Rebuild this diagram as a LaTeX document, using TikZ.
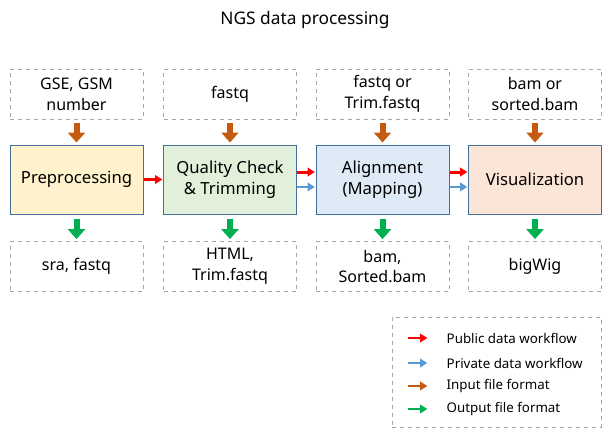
\documentclass[tikz,border=0pt]{standalone}
\usepackage{fontspec}
\setmainfont{Noto Sans}
\usetikzlibrary{arrows.meta, positioning}
\definecolor{fillpre}{HTML}{FFF2CC}
\definecolor{fillqc}{HTML}{E2F0D9}
\definecolor{fillaln}{HTML}{DEEBF7}
\definecolor{fillvis}{HTML}{FBE5D6}
\definecolor{edgeblue}{HTML}{41719C}
\definecolor{dashgray}{HTML}{A6A6A6}
\definecolor{pubred}{HTML}{FF0000}
\definecolor{privblue}{HTML}{5B9BD5}
\definecolor{inbrown}{HTML}{C55A11}
\definecolor{outgreen}{HTML}{00B050}
\tikzset{
  mainbox/.style={draw=edgeblue, line width=0.75pt, minimum width=99.75pt, minimum height=51.75pt, align=center, font=\fontsize{12.5}{15.5}\selectfont},
  filebox/.style={draw=dashgray, dashed, line width=0.6pt, minimum width=99.75pt, minimum height=37.5pt, align=center, font=\fontsize{12}{15.5}\selectfont},
  flow/.style={line width=2.2pt, -{Triangle[width=6.5pt,length=5.5pt]}, shorten >=0.5pt},
  fatarrow/.style={line width=4.5pt, -{Triangle[width=12.75pt,length=7.5pt]}, shorten <=3pt, shorten >=1.5pt},
  legtext/.style={anchor=west, font=\fontsize{10}{12}\selectfont},
}
\begin{document}
\begin{tikzpicture}[x=0.75pt,y=-0.75pt]
    \useasboundingbox (0,0) rectangle (610,439);
    \node[font=\fontsize{13}{15}\selectfont] (title) at (305,20) {NGS data processing};

    % main steps
    \node[mainbox, fill=fillpre] (pre) at (76.5,179.5) {Preprocessing};
    \node[mainbox, fill=fillqc] (qc) at (230,179.5) {Quality Check\\\& Trimming};
    \node[mainbox, fill=fillaln] (aln) at (382.5,179.5) {Alignment\\(Mapping)};
    \node[mainbox, fill=fillvis] (vis) at (535,179.5) {Visualization};

    % input files
    \node[filebox] (in1) at (76.5,94) {GSE, GSM\\number};
    \node[filebox] (in2) at (230,94) {fastq};
    \node[filebox] (in3) at (382.5,94) {fastq or\\Trim.fastq};
    \node[filebox] (in4) at (535,94) {bam or\\sorted.bam};

    % output files
    \node[filebox] (out1) at (76.5,266.5) {sra, fastq};
    \node[filebox] (out2) at (230,266.5) {HTML,\\Trim.fastq};
    \node[filebox] (out3) at (382.5,266.5) {bam,\\Sorted.bam};
    \node[filebox] (out4) at (535,266.5) {bigWig};

    \foreach \s/\i/\o in {pre/in1/out1, qc/in2/out2, aln/in3/out3, vis/in4/out4} {
        \draw[fatarrow, inbrown] (\i) -- (\s);
        \draw[fatarrow, outgreen] (\s) -- (\o);
    }

    % workflows
    \draw[flow, pubred] (pre) -- (qc);
    \draw[flow, pubred] ([yshift=5.6pt]qc.east) -- ([yshift=5.6pt]aln.west);
    \draw[flow, privblue] ([yshift=-5.6pt]qc.east) -- ([yshift=-5.6pt]aln.west);
    \draw[flow, pubred] ([yshift=5.6pt]aln.east) -- ([yshift=5.6pt]vis.west);
    \draw[flow, privblue] ([yshift=-5.6pt]aln.east) -- ([yshift=-5.6pt]vis.west);

    % legend
    \node[draw=dashgray, dashed, line width=0.6pt, minimum width=156.75pt, minimum height=82.5pt] (legend) at (496.5,372) {};
    \node[legtext] (l1) at (442,338) {Public data workflow};
    \node[legtext] (l2) at (442,363) {Private data workflow};
    \node[legtext] (l3) at (442,386) {Input file format};
    \node[legtext] (l4) at (442,409) {Output file format};
    \coordinate (a1) at (408,338);
    \coordinate (a2) at (408,363);
    \coordinate (a3) at (408,386);
    \coordinate (a4) at (408,409);
    \draw[flow, pubred] (a1) -- ++(20,0);
    \draw[flow, privblue] (a2) -- ++(20,0);
    \draw[flow, inbrown] (a3) -- ++(20,0);
    \draw[flow, outgreen] (a4) -- ++(20,0);
\end{tikzpicture}
\end{document}
